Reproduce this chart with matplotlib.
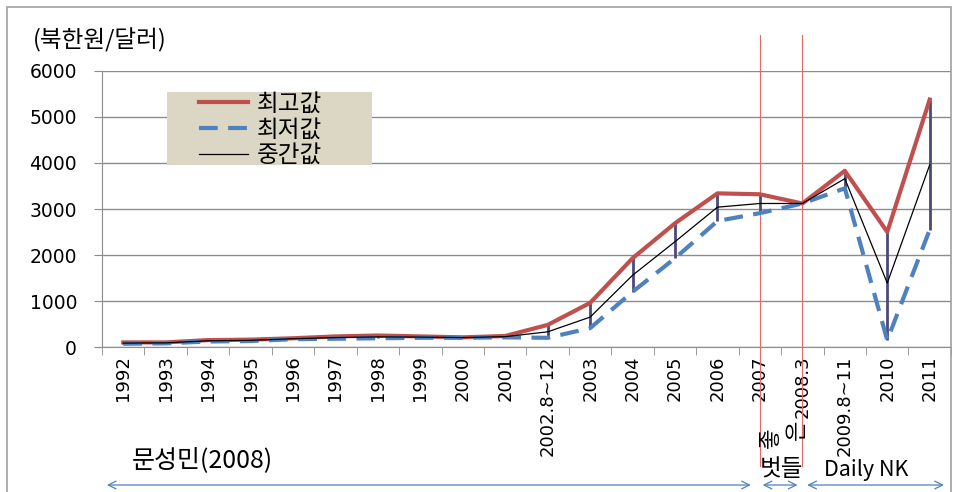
import matplotlib
matplotlib.use('Agg')
import matplotlib.pyplot as plt
from matplotlib.patches import Rectangle

plt.rcParams['font.family'] = ['Noto Sans CJK KR', 'DejaVu Sans']

categories = ['1992', '1993', '1994', '1995', '1996', '1997', '1998', '1999', '2000', '2001',
              '2002.8~12', '2003', '2004', '2005', '2006', '2007', '2008.3', '2009.8~11', '2010', '2011']
high = [100, 100, 150, 160, 190, 230, 250, 230, 210, 240,
        480, 960, 1930, 2690, 3340, 3320, 3120, 3830, 2500, 5380]
low = [70, 80, 120, 130, 170, 180, 190, 200, 200, 210,
       200, 410, 1200, 1930, 2740, 2910, 3120, 3450, 150, 2550]
mid = [85, 90, 135, 145, 180, 205, 220, 215, 205, 225,
       330, 650, 1560, 2290, 3040, 3120, 3120, 3660, 1390, 3960]
source_marks = [15, 16]  # 2007, 2008.3
sources = [('문성민(2008)', -0.45, 14.85), ('좋은벗들', 15.0, 15.95), ('Daily NK', 16.05, 19.4)]

RED = '#c0504d'
BLUE = '#4f81bd'
GRID = '#8c8c8c'

fig = plt.figure(figsize=(9.56, 4.92), dpi=100)
fig.patches.append(Rectangle((0.007, -0.01), 0.988, 0.996, transform=fig.transFigure,
                             fill=False, edgecolor='#a0a0a0', linewidth=1.2))
ax = fig.add_axes([0.1067, 0.2947, 0.888, 0.561])

x = list(range(len(categories)))
ax.vlines(x, low, high, color='#4a4a7a', linewidth=2, zorder=2)
ax.plot(x, high, color=RED, linewidth=3, label='최고값', zorder=3)
ax.plot(x, low, color=BLUE, linewidth=3, dashes=(4.5, 2.5), label='최저값', zorder=3)
ax.plot(x, mid, color='black', linewidth=0.9, label='중간값', zorder=4)

ax.set_xlim(-0.5, len(categories) - 0.5)
ax.set_ylim(0, 6000)
ax.set_yticks(range(0, 6001, 1000))
ax.yaxis.grid(True, color=GRID, linewidth=1)
ax.set_axisbelow(True)
for s in ['top', 'right']:
    ax.spines[s].set_visible(False)
ax.spines['left'].set_color(GRID)
ax.spines['bottom'].set_color(GRID)
ax.tick_params(axis='y', length=6, color=GRID, labelsize=13.5, pad=12)

ax.set_xticks(x)
ax.set_xticklabels(categories, rotation=90, fontsize=13)
ax.tick_params(axis='x', length=0, pad=6)
ax.set_xticks([i - 0.5 for i in range(len(categories) + 1)], minor=True)
ax.tick_params(axis='x', which='minor', length=6, color=GRID)
for lbl in ax.get_xticklabels() + ax.get_yticklabels():
    lbl.set_family('DejaVu Sans')

ax.text(-0.081, 1.11, '(북한원/달러)', transform=ax.transAxes, fontsize=17,
        ha='left', va='center')

# legend box
ax.add_patch(Rectangle((0.0766, 0.659), 0.2415, 0.265, transform=ax.transAxes,
                       facecolor='#dbd7c4', edgecolor='none', zorder=5))
leg = ax.legend(loc='upper left', bbox_to_anchor=(0.114, 0.922), fontsize=17,
                frameon=False, handlelength=2.1, borderpad=0,
                labelspacing=0.12, handletextpad=0.35, borderaxespad=0)
leg.set_zorder(6)

for xm in source_marks:
    ax.axvline(xm, ymin=-0.43, ymax=1.13, color='#e06a6a', linewidth=0.8,
               clip_on=False, zorder=1)

tr = ax.get_xaxis_transform()
for name, x0, x1 in sources:
    ax.annotate('', xy=(x0, -0.5), xytext=(x1, -0.5), xycoords=tr, textcoords=tr,
                arrowprops=dict(arrowstyle='<->', color=BLUE, linewidth=0.9,
                                mutation_scale=14), annotation_clip=False)
ax.text(0.2, -0.41, sources[0][0], transform=tr, fontsize=18, ha='left', va='center')
ax.text(17.5, -0.445, sources[2][0], transform=tr, fontsize=15.5, ha='center', va='center')
ax.text(15.25, -0.33, '좋', transform=tr, fontsize=16, rotation=90, ha='center', va='center')
ax.text(15.85, -0.30, '은', transform=tr, fontsize=16, rotation=90, ha='center', va='center')
ax.text(15.5, -0.445, '벗들', transform=tr, fontsize=17, ha='center', va='center')

fig.savefig('out.png', dpi=100)
